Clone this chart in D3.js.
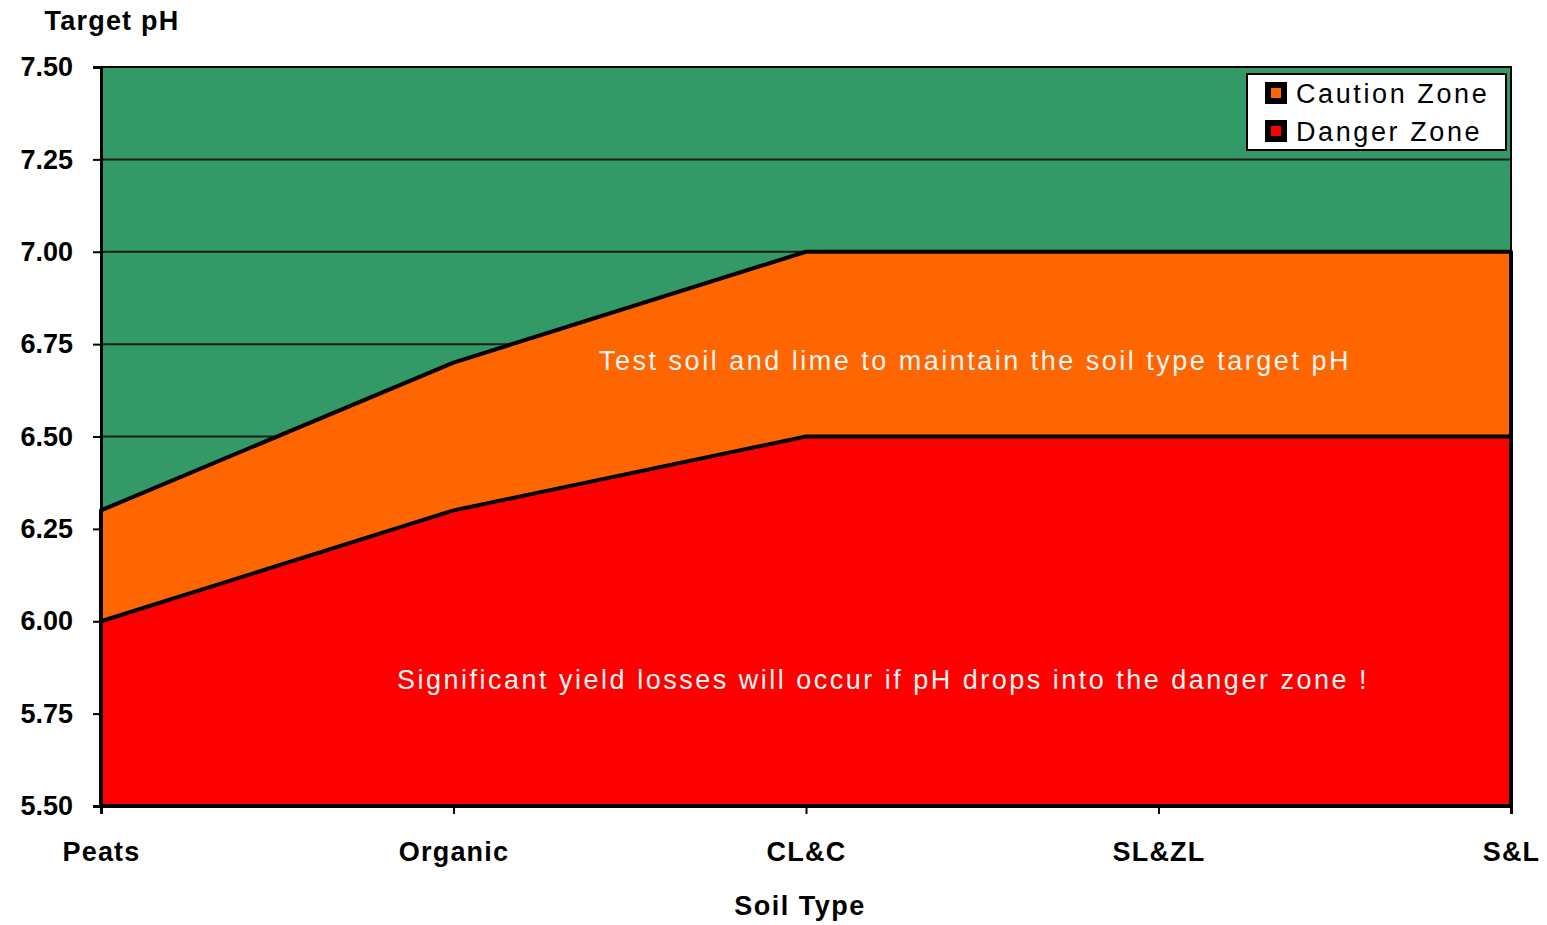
<!DOCTYPE html>
<html>
<head>
<meta charset="utf-8">
<script src="https://cdn.jsdelivr.net/npm/d3@7"></script>
<style>
    body { margin: 0; background: #ffffff; }
    text { font-family: "Liberation Sans", Arial, sans-serif; }
</style>
</head>
<body>
<svg id="grafica" width="1547" height="925"></svg>
<script>

// datos de la grafica
var tiposSuelo = ["Peats", "Organic", "CL&C", "SL&ZL", "S&L"];
var limiteDanger = [6.0, 6.3, 6.5, 6.5, 6.5];
var limiteCaution = [6.3, 6.7, 7.0, 7.0, 7.0];
var ticksPh = [5.50, 5.75, 6.00, 6.25, 6.50, 6.75, 7.00, 7.25, 7.50];
var leyenda = ["Caution Zone", "Danger Zone"];

var colores = { verde: "#339966", naranja: "#FF6600", rojo: "#FF0000" };

dibujaGrafica();

function dibujaGrafica() {
    var svg = d3.select("#grafica");
    var x0 = 101, x1 = 1511, y0 = 806, y1 = 67;

    var x = d3.scalePoint().domain(tiposSuelo).range([x0, x1]);
    var y = d3.scaleLinear().domain([5.5, 7.5]).range([y0, y1]);

    // fondo verde
    svg.append("rect")
        .attr("x", x0).attr("y", y1)
        .attr("width", x1 - x0).attr("height", y0 - y1)
        .attr("fill", colores.verde);

    // lineas de grilla (quedan detras de las areas)
    svg.append("g").selectAll("line")
        .data(ticksPh.slice(1, -1))
        .join("line")
        .attr("x1", x0).attr("x2", x1)
        .attr("y1", function (d) { return y(d); })
        .attr("y2", function (d) { return y(d); })
        .attr("stroke", "#1a1a1a").attr("stroke-width", 2);

    var datos = tiposSuelo.map(function (t, i) {
        return { tipo: t, danger: limiteDanger[i], caution: limiteCaution[i] };
    });

    var areaCaution = d3.area()
        .x(function (d) { return x(d.tipo); })
        .y0(y(5.5))
        .y1(function (d) { return y(d.caution); });
    var areaDanger = d3.area()
        .x(function (d) { return x(d.tipo); })
        .y0(y(5.5))
        .y1(function (d) { return y(d.danger); });

    svg.append("path").datum(datos)
        .attr("d", areaCaution)
        .attr("fill", colores.naranja)
        .attr("stroke", "#000").attr("stroke-width", 4).attr("stroke-linejoin", "round");
    svg.append("path").datum(datos)
        .attr("d", areaDanger)
        .attr("fill", colores.rojo)
        .attr("stroke", "#000").attr("stroke-width", 4).attr("stroke-linejoin", "round");

    // marco del area de trazado
    svg.append("rect")
        .attr("x", x0).attr("y", y1)
        .attr("width", x1 - x0).attr("height", y0 - y1)
        .attr("fill", "none").attr("stroke", "#000").attr("stroke-width", 2);

    // eje y
    var ejeY = svg.append("g")
        .attr("transform", "translate(" + x0 + ",0)")
        .call(d3.axisLeft(y).tickValues(ticksPh).tickFormat(d3.format(".2f")).tickSize(8).tickPadding(20));
    ejeY.select(".domain").attr("stroke", "#000").attr("stroke-width", 3);
    ejeY.selectAll(".tick line").attr("stroke", "#000").attr("stroke-width", 2);
    ejeY.selectAll(".tick text")
        .attr("font-size", 27).attr("font-weight", "bold").attr("fill", "#000")
        .attr("font-family", "Liberation Sans, Arial, sans-serif");

    // eje x
    var ejeX = svg.append("g")
        .attr("transform", "translate(0," + y0 + ")")
        .call(d3.axisBottom(x).tickSize(8).tickPadding(28));
    ejeX.select(".domain").attr("stroke", "#000").attr("stroke-width", 3);
    ejeX.selectAll(".tick line").attr("stroke", "#000").attr("stroke-width", 2);
    ejeX.selectAll(".tick text")
        .attr("font-size", 27).attr("font-weight", "bold").attr("fill", "#000")
        .attr("letter-spacing", 1.2)
        .attr("font-family", "Liberation Sans, Arial, sans-serif");

    // titulos
    svg.append("text")
        .attr("x", 112).attr("y", 30)
        .attr("text-anchor", "middle")
        .attr("font-size", 27).attr("font-weight", "bold").attr("letter-spacing", 1.2)
        .text("Target pH");
    svg.append("text")
        .attr("x", 800).attr("y", 915)
        .attr("text-anchor", "middle")
        .attr("font-size", 27).attr("font-weight", "bold").attr("letter-spacing", 1.5)
        .text("Soil Type");

    // textos de las zonas
    svg.append("text")
        .attr("x", 975).attr("y", 370)
        .attr("text-anchor", "middle")
        .attr("font-size", 27).attr("fill", "#f4f4f4").attr("letter-spacing", 2.5)
        .text("Test soil and lime to maintain the soil type target pH");
    svg.append("text")
        .attr("x", 883).attr("y", 689)
        .attr("text-anchor", "middle")
        .attr("font-size", 27).attr("fill", "#f4f4f4").attr("letter-spacing", 2.5)
        .text("Significant yield losses will occur if pH drops into the danger zone !");

    // leyenda
    var ley = svg.append("g").attr("transform", "translate(1247,74)");
    ley.append("rect")
        .attr("width", 259).attr("height", 76)
        .attr("fill", "#fff").attr("stroke", "#000").attr("stroke-width", 2);
    var colLey = [colores.naranja, colores.rojo];
    leyenda.forEach(function (nombre, i) {
        var fila = ley.append("g").attr("transform", "translate(18," + (8 + i * 38) + ")");
        fila.append("rect").attr("width", 22).attr("height", 22).attr("fill", "#000");
        fila.append("rect").attr("x", 6).attr("y", 6).attr("width", 10).attr("height", 10).attr("fill", colLey[i]);
        fila.append("text")
            .attr("x", 31).attr("y", 21)
            .attr("font-size", 27).attr("fill", "#000").attr("letter-spacing", 2.6)
            .text(nombre);
    });
}
</script>
</body>
</html>
